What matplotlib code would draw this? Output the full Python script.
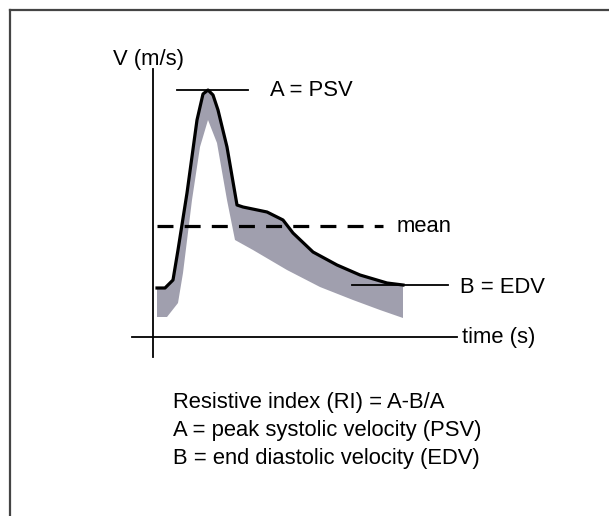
import numpy as np
import matplotlib
matplotlib.use("Agg")
import matplotlib.pyplot as plt
from matplotlib.lines import Line2D

# Doppler waveform (time in arbitrary units, velocity in arbitrary units)
wave_t = [0.04, 0.12, 0.20, 0.25, 0.34, 0.44, 0.50, 0.55, 0.60, 0.65, 0.74,
          0.84, 0.90, 1.14, 1.30, 1.40, 1.60, 1.84, 2.07, 2.34, 2.50]
wave_v = [0.49, 0.49, 0.57, 0.87, 1.44, 2.17, 2.43, 2.47, 2.42, 2.27, 1.90,
          1.32, 1.30, 1.25, 1.17, 1.04, 0.85, 0.72, 0.62, 0.54, 0.52]

# lower edge of the spectral band
band_t = [0.04, 0.14, 0.25, 0.30, 0.39, 0.47, 0.55, 0.64, 0.74, 0.82, 1.00,
          1.34, 1.67, 2.00, 2.27, 2.50]
band_v = [0.20, 0.20, 0.34, 0.64, 1.37, 1.90, 2.17, 1.94, 1.37, 0.97, 0.87,
          0.67, 0.50, 0.37, 0.27, 0.19]

psv = 2.47
edv = 0.52
mean_v = 1.11

notes = ["Resistive index (RI) = A-B/A",
         "A = peak systolic velocity (PSV)",
         "B = end diastolic velocity (EDV)"]

plt.rcParams['font.family'] = ['Liberation Sans', 'DejaVu Sans']
fs = 15.8

fig = plt.figure(figsize=(6.09, 5.16), dpi=100)
fig.patch.set_facecolor('white')
ax = fig.add_axes([0, 0, 1, 1])
ax.set_xlim(-1.53, 4.56)
ax.set_ylim(-1.79, 3.37)
ax.axis('off')

# gray band
poly_t = list(wave_t) + band_t[::-1]
poly_v = list(wave_v) + band_v[::-1]
ax.fill(poly_t, poly_v, color='#a09fae', lw=0, zorder=1)

# waveform outline
ax.plot(wave_t, wave_v, color='black', lw=2.3, solid_joinstyle='round', zorder=3)

# axes
ax.plot([0, 0], [-0.20, 2.68], color='black', lw=1.3, zorder=2)
ax.plot([-0.21, 3.04], [0, 0], color='black', lw=1.3, zorder=2)

# reference lines
ax.plot([0.24, 0.95], [psv, psv], color='black', lw=1.3, zorder=2)
ax.plot([1.99, 2.95], [edv, edv], color='black', lw=1.3, zorder=4)
ax.plot([0.04, 2.30], [mean_v, mean_v], color='black', lw=2.3,
        dashes=(5, 3.5), zorder=4)

ax.text(-0.40, 2.72, "V (m/s)", fontsize=fs, va='baseline', ha='left')
ax.text(1.17, 2.41, "A = PSV", fontsize=fs, va='baseline', ha='left')
ax.text(2.44, 1.05, "mean", fontsize=fs, va='baseline', ha='left')
ax.text(3.07, 0.44, "B = EDV", fontsize=fs, va='baseline', ha='left')
ax.text(3.09, -0.06, "time (s)", fontsize=fs, va='baseline', ha='left')

for i, s in enumerate(notes):
    ax.text(0.20, -0.71 - 0.28 * i, s, fontsize=fs, va='baseline', ha='left')

# frame (top and left edges only)
fig.add_artist(Line2D([10 / 609, 10 / 609], [0, 1 - 10 / 516],
                      transform=fig.transFigure, color='#444444', lw=1.6))
fig.add_artist(Line2D([10 / 609, 1], [1 - 10 / 516, 1 - 10 / 516],
                      transform=fig.transFigure, color='#444444', lw=1.6))

fig.savefig("out.png", dpi=100, facecolor='white')
